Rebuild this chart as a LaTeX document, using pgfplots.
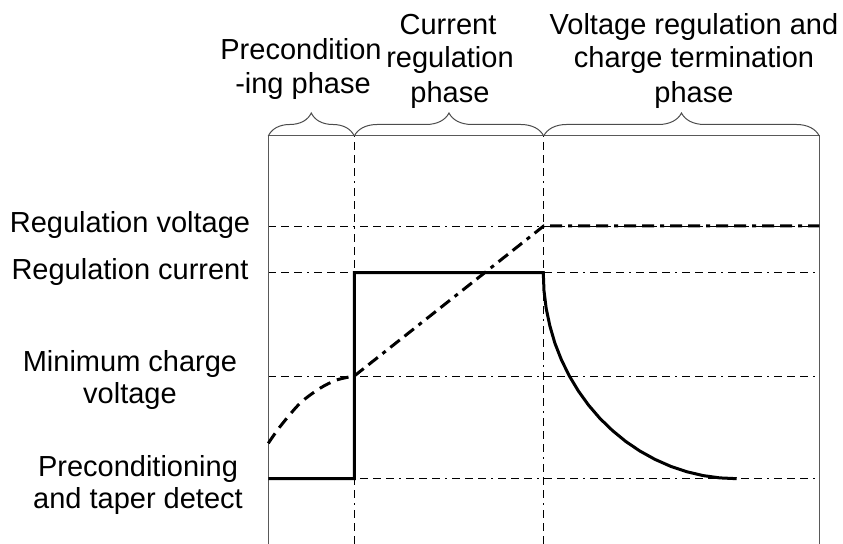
\documentclass[border=0pt]{standalone}
\usepackage{pgfplots}
\pgfplotsset{compat=1.18}
\usepackage{fontspec}
\setmainfont{Liberation Sans}
\usetikzlibrary{decorations.pathreplacing}
\begin{document}
\begin{tikzpicture}[lbl/.style={font=\fontsize{14.5pt}{16.5pt}\selectfont, anchor=base, inner sep=0pt}]
\begin{axis}[x=0.5pt, y=0.5pt,
  xmin=268.3, xmax=819.3, ymin=0, ymax=408,
  clip=false,
  axis line style={draw=none},
  xtick={354.3,543.7}, ytick={65.3,168,271.3,318},
  xticklabels={}, yticklabels={},
  major tick length=0pt,
  grid=major,
  major grid style={black, line width=0.45pt, dash pattern=on 4pt off 2.5pt on 4pt off 2.5pt on 4pt off 2.5pt on 1pt off 2.5pt},
]
% frame
\draw[black!65, line width=0.5pt] (axis cs:268.3,0) -- (axis cs:268.3,408) -- (axis cs:819.3,408) -- (axis cs:819.3,0);
% braces
\draw[black!70, line width=0.5pt, decorate, decoration={brace, amplitude=11.5pt}] (axis cs:268.3,408) -- (axis cs:354.3,408);
\draw[black!70, line width=0.5pt, decorate, decoration={brace, amplitude=11.5pt}] (axis cs:354.3,408) -- (axis cs:543.7,408);
\draw[black!70, line width=0.5pt, decorate, decoration={brace, amplitude=11.5pt}] (axis cs:543.7,408) -- (axis cs:819.3,408);

% charge current (solid)
\addplot[black, line width=1.5pt, mark=none] coordinates {
(268.3,65.3) (354.3,65.3) (354.3,271.3) (543.3,271.3)
(544.0,253.3) (546.2,235.5) (549.9,218.0) (554.9,200.8) (561.4,184.2)
(569.2,168.3) (578.3,153.1) (588.5,138.9) (599.9,125.6) (612.4,113.5)
(625.8,102.5) (640.0,92.9) (655.0,84.6) (670.6,77.7) (686.6,72.3)
(703.1,68.4) (719.8,66.1) (736.7,65.3)
};
% battery voltage, preconditioning part (dashed)
\addplot[black, line width=1.5pt, mark=none, smooth, dash pattern=on 6pt off 3.5pt] coordinates {
(268.3,100.7) (280,117.3) (300,140.7) (320,155.7) (336.7,164) (354.3,168)
};
% battery voltage, rest (dash dot)
\addplot[black, line width=1.5pt, mark=none, dash pattern=on 6pt off 3pt on 6pt off 3pt on 2pt off 3pt] coordinates {
(354.3,168) (543.7,318) (819.3,318)
};

% phase labels
\node[lbl] at (axis cs:301,484) {Precondition};
\node[lbl] at (axis cs:303,450) {-ing phase};
\node[lbl] at (axis cs:448,509) {Current};
\node[lbl] at (axis cs:450,476) {regulation};
\node[lbl] at (axis cs:450,441) {phase};
\node[lbl] at (axis cs:694,509) {Voltage regulation and};
\node[lbl] at (axis cs:694,476) {charge termination};
\node[lbl] at (axis cs:694,441) {phase};
% level labels
\node[lbl] at (axis cs:130,311) {Regulation voltage};
\node[lbl] at (axis cs:130,264) {Regulation current};
\node[lbl] at (axis cs:130,172) {Minimum charge};
\node[lbl] at (axis cs:130,140) {voltage};
\node[lbl] at (axis cs:138,67) {Preconditioning};
\node[lbl] at (axis cs:138,35) {and taper detect};

\coordinate (BL) at (axis cs:0,0);
\coordinate (TR) at (axis cs:843,544);
\end{axis}
\pgfresetboundingbox
\useasboundingbox (BL) rectangle (TR);
\end{tikzpicture}
\end{document}
